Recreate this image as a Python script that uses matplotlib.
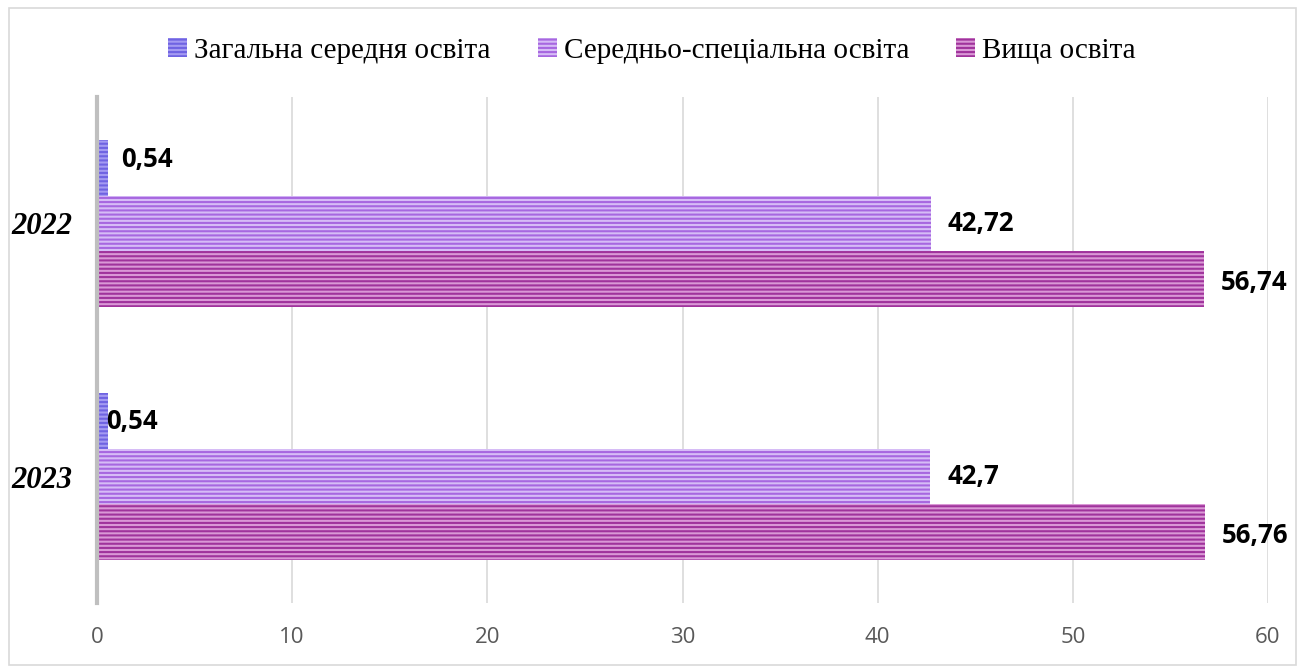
import matplotlib.pyplot as plt
from matplotlib.patches import Rectangle, Patch
import matplotlib as mpl

years = ["2022", "2023"]
series_names = ["Загальна середня освіта", "Середньо-спеціальна освіта", "Вища освіта"]
general_secondary = [0.54, 0.54]
vocational = [42.72, 42.7]
higher = [56.74, 56.76]
value_labels = [["0,54", "0,54"], ["42,72", "42,7"], ["56,74", "56,76"]]
x_ticks = [0, 10, 20, 30, 40, 50, 60]

face_colors = ["#a49af2", "#d6bcf6", "#da98d6"]
stripe_colors = ["#6f63e2", "#a767e0", "#a0339c"]

mpl.rcParams["hatch.linewidth"] = 1.5

fig = plt.figure(figsize=(13.04, 6.66), dpi=100)
fig.patches.append(Rectangle((9 / 1304, 1 / 666), 1287 / 1304, 657 / 666,
                             transform=fig.transFigure, fill=False,
                             edgecolor="#d9d9d9", linewidth=1.2))

ax = fig.add_axes([97 / 1304, 63 / 666, (1268 - 97) / 1304, (603 - 97) / 666])

values = [general_secondary, vocational, higher]
bar_h = 0.2213
offsets = [-bar_h, 0, bar_h]
label_offsets = [[(10, 6), (-1, -1)], [(12, 0), (12, 0)], [(12, -2), (12, -2)]]

for s, (vals, off) in enumerate(zip(values, offsets)):
    ys = [i + off for i in range(len(years))]
    ax.barh(ys, vals, height=bar_h, color=face_colors[s], edgecolor=stripe_colors[s],
            hatch="----", linewidth=0, zorder=3)
    for i, (y, v) in enumerate(zip(ys, vals)):
        ax.annotate(value_labels[s][i], (v, y), xytext=label_offsets[s][i],
                    textcoords="offset points", ha="left", va="center",
                    fontsize=18.5, fontweight="bold", family="Open Sans", color="black",
                    zorder=4)

ax.set_xlim(0, 60)
ax.set_ylim(1.5, -0.5)
ax.set_xticks(x_ticks)
ax.set_xticklabels([str(t) for t in x_ticks], family="Open Sans", fontsize=16, color="#595959")
ax.set_yticks(range(len(years)))
ax.set_yticklabels(years, family="Liberation Serif", fontsize=22,
                   fontweight="bold", style="italic")
ax.tick_params(axis="both", length=0)
ax.tick_params(axis="x", pad=17)
ax.tick_params(axis="y", pad=18)
ax.grid(axis="x", color="#d9d9d9", linewidth=1.2, zorder=0)
for side in ["top", "right", "bottom"]:
    ax.spines[side].set_visible(False)
ax.spines["left"].set_color("#bfbfbf")
ax.spines["left"].set_linewidth(3)
ax.spines["left"].set_zorder(5)

handles = [Patch(facecolor=face_colors[s], edgecolor=stripe_colors[s], hatch="----",
                 linewidth=0, label=series_names[s]) for s in range(3)]
fig.legend(handles=handles, loc="center", bbox_to_anchor=(0.5, 1 - 51 / 666), ncol=3,
           frameon=False, prop={"family": "Liberation Serif", "size": 21},
           handlelength=0.65, handleheight=0.65, handletextpad=0.25, columnspacing=1.6)

fig.savefig("out.png", dpi=100)
